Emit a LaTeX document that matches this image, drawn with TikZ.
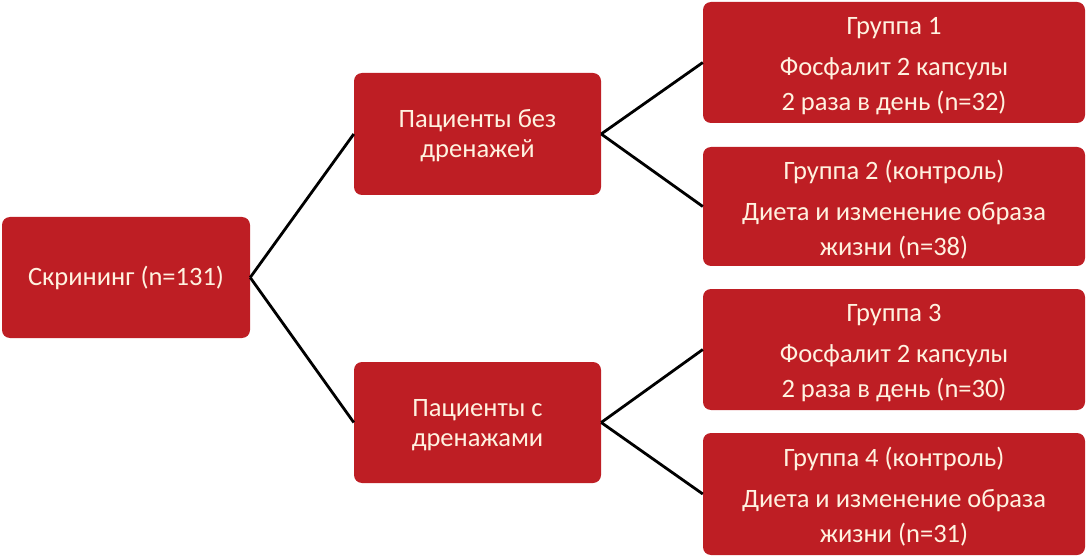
\documentclass[tikz,border=0pt]{standalone}
\usepackage{fontspec}
\setmainfont{Carlito}
\definecolor{boxred}{RGB}{190,30,36}
\definecolor{boxtext}{RGB}{255,242,224}
\newcommand{\topstrut}{\rule{0pt}{25pt}}
\begin{document}
\begin{tikzpicture}[x=1pt,y=-1pt,
  box/.style={fill=boxred, rounded corners=8pt, inner sep=0pt, align=center,
    text=boxtext, font=\fontsize{26.5}{30}\selectfont},
  grp/.style={box, minimum width=382pt, font=\fontsize{26.5}{35}\selectfont},
  link/.style={draw=black, line width=2.8pt}]
\useasboundingbox (0,0) rectangle (1090,556);
\node[box, minimum width=248pt, minimum height=121pt] (s) at (126,277.5) {Скрининг (n=131)};
\node[box, minimum width=247pt, minimum height=122pt] (p1) at (477.5,134) {\rule{0pt}{22pt}Пациенты без\\дренажей};
\node[box, minimum width=247pt, minimum height=121pt] (p2) at (477.5,422.5) {\rule{0pt}{22pt}Пациенты с\\дренажами};
\node[grp, minimum height=121pt] (g1) at (894,62.5) {\topstrut Группа 1\\[6pt]Фосфалит 2 капсулы\\2 раза в день (n=32)};
\node[grp, minimum height=119pt] (g2) at (894,206.5) {\topstrut Группа 2 (контроль)\\[6pt]Диета и изменение образа\\жизни (n=38)};
\node[grp, minimum height=121pt] (g3) at (894,349.5) {\topstrut Группа 3\\[6pt]Фосфалит 2 капсулы\\2 раза в день (n=30)};
\node[grp, minimum height=122pt] (g4) at (894,494) {\topstrut Группа 4 (контроль)\\[6pt]Диета и изменение образа\\жизни (n=31)};
\draw[link] (s.east) -- (p1.west);
\draw[link] (s.east) -- (p2.west);
\draw[link] (p1.east) -- (g1.west);
\draw[link] (p1.east) -- (g2.west);
\draw[link] (p2.east) -- (g3.west);
\draw[link] (p2.east) -- (g4.west);
\end{tikzpicture}
\end{document}
